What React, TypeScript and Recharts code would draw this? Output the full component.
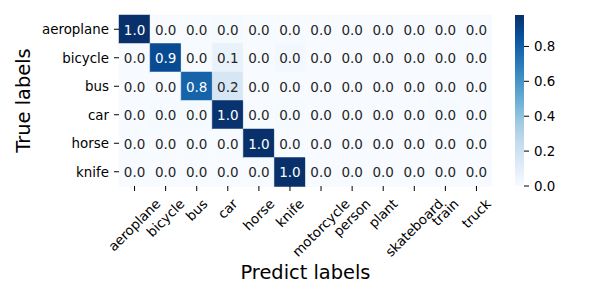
import { BarChart, Bar, XAxis, YAxis, Cell, LabelList } from "recharts";

const trueLabels = ["aeroplane", "bicycle", "bus", "car", "horse", "knife"];
const predLabels = [
  "aeroplane",
  "bicycle",
  "bus",
  "car",
  "horse",
  "knife",
  "motorcycle",
  "person",
  "plant",
  "skateboard",
  "train",
  "truck",
];

// confusion matrix rows (true label -> predicted share)
const aeroplaneRow = [0.98, 0, 0, 0.01, 0, 0, 0, 0, 0, 0, 0, 0];
const bicycleRow = [0, 0.88, 0, 0.07, 0, 0.02, 0, 0, 0, 0, 0, 0];
const busRow = [0, 0, 0.79, 0.16, 0, 0, 0, 0, 0, 0, 0, 0];
const carRow = [0, 0.01, 0.01, 0.97, 0, 0.01, 0, 0, 0, 0, 0.01, 0];
const horseRow = [0, 0, 0, 0, 0.98, 0, 0, 0, 0, 0, 0, 0];
const knifeRow = [0, 0, 0, 0, 0, 0.98, 0, 0, 0, 0, 0, 0];
const matrix = [aeroplaneRow, bicycleRow, busRow, carRow, horseRow, knifeRow];

const cbarTicks = [0, 0.2, 0.4, 0.6, 0.8];

const FONT = "DejaVu Sans, sans-serif";

// matplotlib "Blues"
const blues = ["#f7fbff", "#deebf7", "#c6dbef", "#9ecae1", "#6baed6", "#4292c6", "#2171b5", "#08519c", "#08306b"];

const hex = (h: string) => [1, 3, 5].map((i) => parseInt(h.slice(i, i + 2), 16));

function bluesAt(t: number) {
  const c = Math.max(0, Math.min(1, t)) * (blues.length - 1);
  const i = Math.min(Math.floor(c), blues.length - 2);
  const f = c - i;
  const a = hex(blues[i]);
  const b = hex(blues[i + 1]);
  return a.map((v, k) => Math.round(v + (b[k] - v) * f));
}

const vmax = Math.max(...matrix.flat());
const cellColor = (v: number) => {
  const [r, g, b] = bluesAt(v / vmax);
  return `rgb(${r},${g},${b})`;
};

function textColor(v: number) {
  const lum = bluesAt(v / vmax)
    .map((c) => {
      const s = c / 255;
      return s <= 0.03928 ? s / 12.92 : Math.pow((s + 0.055) / 1.055, 2.4);
    })
    .reduce((acc, s, k) => acc + s * [0.2126, 0.7152, 0.0722][k], 0);
  return lum > 0.408 ? "#262626" : "#ffffff";
}

const rows = trueLabels.map((name, i) => {
  const row: Record<string, number | string> = { name };
  predLabels.forEach((_, j) => {
    row[`c${j}`] = 1;
    row[`v${j}`] = matrix[i][j];
  });
  return row;
});

let ctx: CanvasRenderingContext2D | null = null;
function textWidth(s: string, size: number) {
  if (!ctx) ctx = document.createElement("canvas").getContext("2d");
  if (!ctx) return s.length * size * 0.6;
  ctx.font = `${size}px "DejaVu Sans"`;
  return ctx.measureText(s).width;
}

const TICK_SIZE = 13.4;

function RotatedTick(props: any) {
  const { x, y, payload } = props;
  const label = predLabels[Math.floor(payload.value)];
  const w = textWidth(label, TICK_SIZE);
  const h = TICK_SIZE * 1.164;
  const H = (w + h) * Math.SQRT1_2;
  return (
    <text
      transform={`translate(${x},${y + H / 2}) rotate(-45)`}
      textAnchor="middle"
      dominantBaseline="central"
      fontFamily={FONT}
      fontSize={TICK_SIZE}
      fill="#000"
    >
      {label}
    </text>
  );
}

function CellText(props: any) {
  const { x, y, width, height, value } = props;
  return (
    <text
      x={x + width / 2}
      y={y + height / 2}
      textAnchor="middle"
      dominantBaseline="central"
      fontFamily={FONT}
      fontSize={13.5}
      fill={textColor(value)}
    >
      {Number(value).toFixed(1)}
    </text>
  );
}

export default function App() {
  return (
    <div style={{ position: "absolute", left: 0, top: 0, width: 600, height: 300, background: "#fff" }}>
      <div style={{ position: "absolute", left: 0, top: 0 }}>
        <BarChart
          width={600}
          height={300}
          data={rows}
          layout="vertical"
          margin={{ top: 15, right: 108, bottom: 14, left: 0 }}
          barCategoryGap={0}
          barGap={0}
        >
          <XAxis
            type="number"
            domain={[0, 12]}
            ticks={predLabels.map((_, j) => j + 0.5)}
            interval={0}
            height={100}
            axisLine={false}
            tickSize={5}
            tickMargin={5}
            tickLine={{ stroke: "#000", strokeWidth: 1 }}
            tick={<RotatedTick />}
            label={{
              content: ({ viewBox }: any) => (
                <text
                  x={viewBox.x + viewBox.width / 2}
                  y={viewBox.y + 93}
                  textAnchor="middle"
                  fontFamily={FONT}
                  fontSize={19.4}
                  fill="#000"
                >
                  Predict labels
                </text>
              ),
            }}
          />
          <YAxis
            type="category"
            dataKey="name"
            width={119}
            axisLine={false}
            tickSize={5}
            tickMargin={5}
            tickLine={{ stroke: "#000", strokeWidth: 1 }}
            tick={{ fontFamily: FONT, fontSize: TICK_SIZE, fill: "#000" }}
            interval={0}
            label={{
              content: ({ viewBox }: any) => (
                <text
                  transform={`translate(${viewBox.x + 30},${viewBox.y + viewBox.height / 2}) rotate(-90)`}
                  textAnchor="middle"
                  fontFamily={FONT}
                  fontSize={19.4}
                  fill="#000"
                >
                  True labels
                </text>
              ),
            }}
          />
          {predLabels.map((_, j) => (
            <Bar key={j} dataKey={`c${j}`} stackId="m" isAnimationActive={false}>
              {matrix.map((row, i) => (
                <Cell key={i} fill={cellColor(row[j])} stroke={cellColor(row[j])} strokeWidth={0.5} />
              ))}
              <LabelList dataKey={`v${j}`} content={<CellText />} />
            </Bar>
          ))}
        </BarChart>
      </div>
      <div style={{ position: "absolute", left: 515, top: 0 }}>
        <BarChart
          width={85}
          height={300}
          data={[{ name: "cbar", v: vmax }]}
          margin={{ top: 15, right: 0, bottom: 114, left: 0 }}
          barCategoryGap={0}
        >
          <defs>
            <linearGradient id="cbar" x1="0" y1="1" x2="0" y2="0">
              {blues.map((c, k) => (
                <stop key={k} offset={k / (blues.length - 1)} stopColor={c} />
              ))}
            </linearGradient>
          </defs>
          <XAxis dataKey="name" hide />
          <YAxis
            type="number"
            orientation="right"
            domain={[0, vmax]}
            ticks={cbarTicks}
            width={76}
            axisLine={false}
            tickSize={5}
            tickMargin={5}
            tickLine={{ stroke: "#000", strokeWidth: 1 }}
            tickFormatter={(v: number) => v.toFixed(1)}
            tick={{ fontFamily: FONT, fontSize: TICK_SIZE, fill: "#000", textAnchor: "start" }}
          />
          <Bar dataKey="v" fill="url(#cbar)" isAnimationActive={false} />
        </BarChart>
      </div>
    </div>
  );
}
